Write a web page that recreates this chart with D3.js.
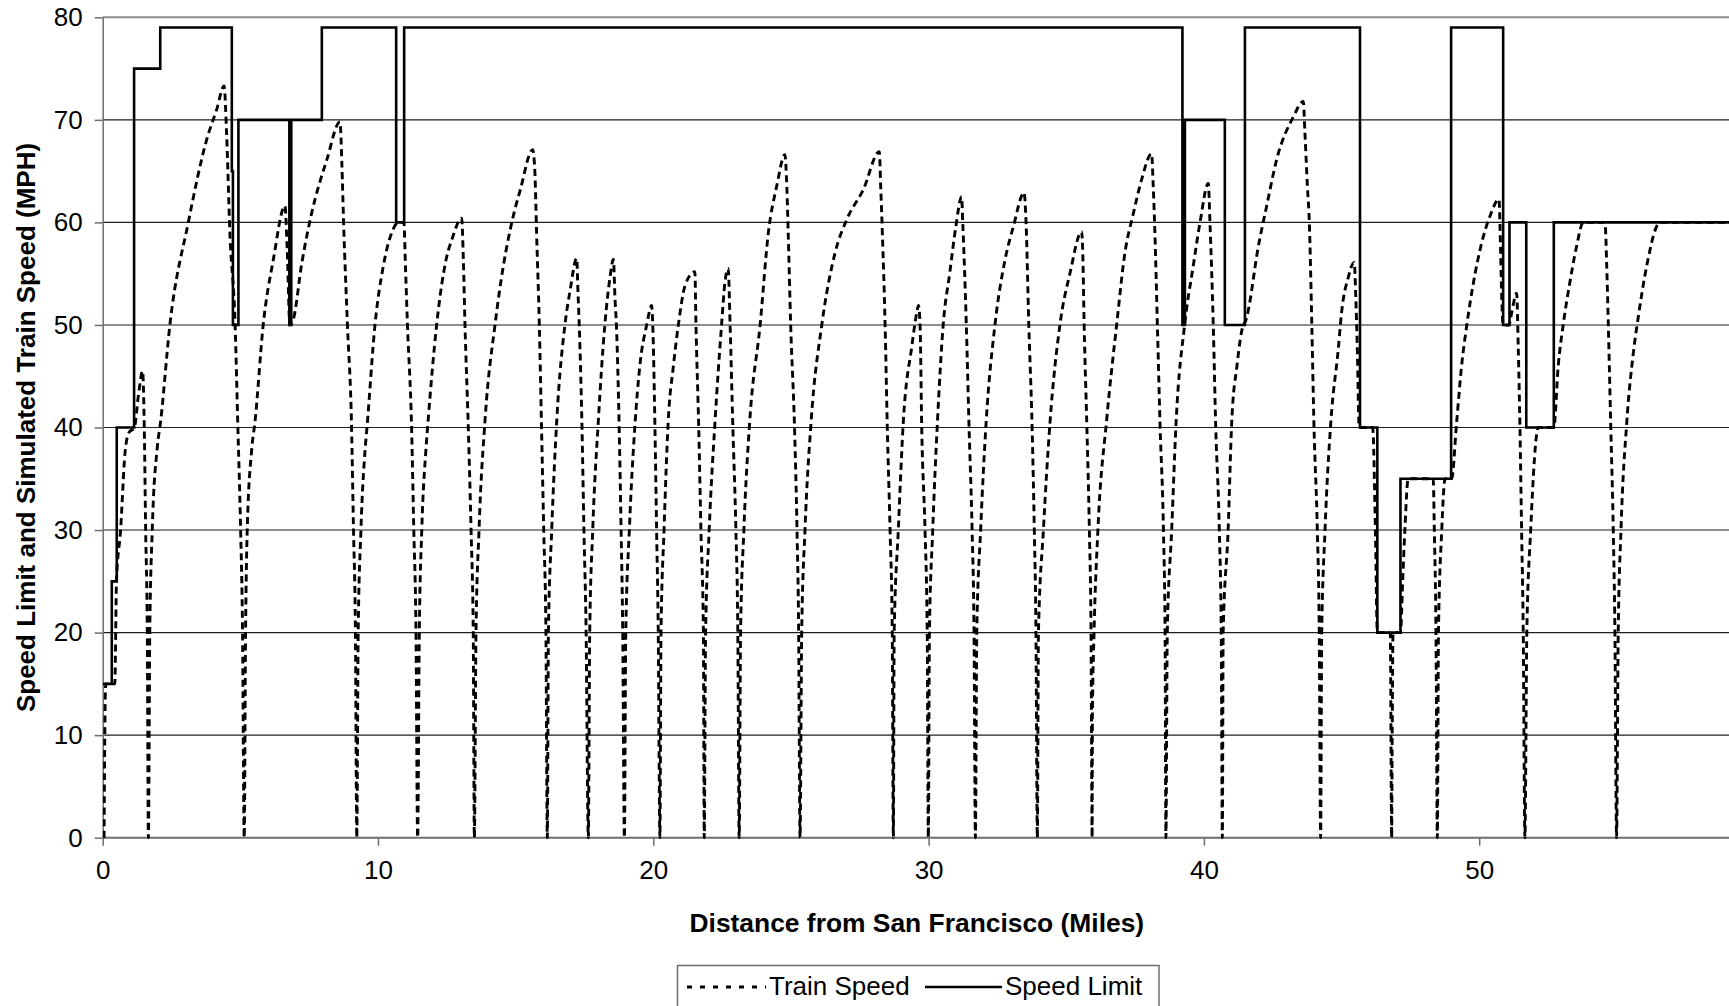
<!DOCTYPE html>
<html>
<head>
<meta charset="utf-8">
<script src="https://cdn.jsdelivr.net/npm/d3@7/dist/d3.min.js"></script>
<style>
  body { margin: 0; background: #fff; }
  svg { display: block; font-family: "Liberation Sans", Arial, sans-serif; }
</style>
</head>
<body>
<svg id="chart" width="1729" height="1006"></svg>
<script>
//Values (miles, mph)
var yTicks = [0, 10, 20, 30, 40, 50, 60, 70, 80];
var xTicks = [0, 10, 20, 30, 40, 50];

//Speed limit: [start of section, limit]
var limitSteps = [
    [0, 15], [0.33, 25], [0.51, 40], [1.14, 75], [2.09, 79], [4.69, 65], [4.73, 50], [4.93, 70],
    [6.78, 50], [6.85, 70], [7.96, 79], [10.66, 60], [10.95, 79], [39.22, 50], [39.31, 70],
    [40.76, 50], [41.49, 79], [45.67, 40], [46.3, 20], [47.14, 35], [48.98, 79], [50.87, 50],
    [51.1, 60], [51.71, 40], [52.71, 60], [60, 60]
];

//Simulated train speed: [distance, speed], one line per run between stops
var trainSpeed = [
    [0.05, 0], [0.07, 8], [0.11, 15], [0.44, 15], [0.5, 25], [0.65, 30], [0.81, 37.5], [0.95, 39.5], [1.15, 40], [1.3, 43.2], [1.45, 45.5], [1.51, 40], [1.56, 30], [1.62, 20], [1.66, 0],
    [1.71, 20], [1.8, 30], [1.98, 38], [2.1, 40.5], [2.44, 50], [3.11, 60], [3.78, 68.1], [4.14, 71], [4.41, 73.3], [4.5, 68.7], [4.62, 59], [4.81, 50], [4.91, 40], [5.01, 30], [5.08, 20], [5.14, 0],
    [5.19, 20], [5.25, 30], [5.41, 37.8], [5.53, 40.5], [5.83, 50], [6.2, 56.4], [6.62, 61.6], [6.7, 57.5], [6.8, 50], [6.92, 50.5], [7.23, 56], [7.59, 60.9], [8.14, 66.1], [8.62, 69.8], [8.69, 65.5], [8.75, 60], [8.89, 50], [9.04, 40], [9.11, 30], [9.18, 20], [9.23, 0],
    [9.28, 20], [9.38, 30], [9.53, 37.8], [9.6, 40], [9.89, 50], [10.19, 55.7], [10.5, 59], [10.74, 60], [10.94, 60], [11.0, 55.5], [11.07, 50], [11.22, 40], [11.3, 30], [11.38, 20], [11.44, 0],
    [11.5, 20], [11.59, 30], [11.74, 37.8], [11.83, 41], [12.13, 50], [12.5, 56.7], [12.68, 58.3], [13.04, 60.4], [13.1, 56.4], [13.16, 50], [13.28, 40], [13.38, 30], [13.46, 20], [13.5, 0],
    [13.56, 20], [13.67, 30], [13.89, 40.8], [14.25, 50], [14.55, 55.7], [14.86, 60], [15.17, 63.2], [15.62, 67.1], [15.7, 64.8], [15.76, 59], [15.86, 50], [15.94, 40], [16.02, 30], [16.1, 20], [16.15, 0],
    [16.19, 20], [16.31, 30], [16.5, 41], [16.79, 50], [16.98, 53.4], [17.22, 56.5], [17.26, 53.5], [17.31, 50], [17.41, 40], [17.48, 30], [17.56, 20], [17.64, 0],
    [17.69, 20], [17.8, 30], [18.0, 40.5], [18.24, 50], [18.43, 54.7], [18.55, 56.4], [18.61, 52.5], [18.66, 50], [18.76, 40], [18.83, 30], [18.89, 20], [18.95, 0],
    [19.0, 20], [19.13, 30], [19.34, 40.5], [19.51, 46], [19.76, 50], [19.94, 51.9], [19.98, 50], [20.06, 40], [20.12, 30], [20.18, 20], [20.24, 0],
    [20.28, 20], [20.39, 30], [20.54, 40.5], [20.73, 46], [20.91, 50], [21.15, 53.8], [21.51, 55.2], [21.55, 50], [21.65, 40], [21.73, 30], [21.82, 20], [21.85, 0],
    [21.9, 20], [22.03, 30], [22.24, 40.5], [22.48, 50], [22.6, 54.1], [22.72, 55.5], [22.79, 50], [22.89, 40], [23.0, 30], [23.07, 20], [23.12, 0],
    [23.17, 20], [23.29, 30], [23.5, 40.5], [23.88, 50], [24.18, 59], [24.48, 63.5], [24.78, 66.6], [24.85, 63.5], [24.9, 59], [24.99, 50], [25.13, 40], [25.22, 30], [25.28, 20], [25.33, 0],
    [25.39, 20], [25.51, 30], [25.73, 40.5], [26.12, 50], [26.6, 57], [27.03, 60.3], [27.63, 63.2], [28.21, 66.9], [28.26, 63.5], [28.32, 59], [28.42, 50], [28.5, 40], [28.6, 30], [28.68, 20], [28.72, 0],
    [28.75, 20], [28.9, 30], [29.08, 40.5], [29.39, 47.9], [29.57, 51.2], [29.63, 51.9], [29.69, 50], [29.75, 40], [29.87, 30], [29.95, 20], [29.99, 0],
    [30.03, 20], [30.15, 30], [30.32, 40.5], [30.53, 50], [30.77, 55.1], [30.99, 59.6], [31.2, 62.5], [31.24, 60], [31.37, 50], [31.47, 40], [31.58, 30], [31.65, 20], [31.7, 0],
    [31.75, 20], [31.89, 30], [32.09, 40.5], [32.41, 50], [32.78, 56.4], [33.08, 59.6], [33.47, 62.9], [33.54, 60], [33.64, 50], [33.76, 40], [33.84, 30], [33.9, 20], [33.95, 0],
    [33.99, 20], [34.17, 30], [34.41, 40.5], [34.77, 50], [35.14, 55.1], [35.56, 59.1], [35.6, 57], [35.65, 50], [35.75, 40], [35.84, 30], [35.9, 20], [35.94, 0],
    [35.95, 12], [36.01, 20], [36.15, 30], [36.47, 40.8], [36.83, 50], [37.13, 57], [37.44, 60.9], [37.74, 64.2], [38.1, 66.7], [38.16, 63.5], [38.22, 59], [38.31, 50], [38.41, 40], [38.53, 30], [38.59, 20], [38.62, 0],
    [38.67, 20], [38.83, 30], [38.99, 40.5], [39.3, 50], [39.61, 55.7], [39.86, 60], [40.16, 63.8], [40.22, 60], [40.34, 50], [40.43, 40], [40.56, 30], [40.63, 20], [40.67, 0],
    [40.7, 20], [40.88, 30], [41.01, 40.5], [41.2, 46], [41.43, 50], [41.5, 50.3], [42.0, 58], [42.28, 61.6], [42.64, 66.1], [43.25, 70.3], [43.61, 71.8], [43.67, 68.7], [43.76, 63.5], [43.83, 60], [43.92, 50], [44.0, 40], [44.12, 30], [44.19, 20], [44.24, 0],
    [44.28, 20], [44.4, 30], [44.61, 40.5], [44.88, 47.6], [45.0, 51.2], [45.25, 54.7], [45.46, 56.1], [45.52, 52.5], [45.57, 48], [45.64, 40], [46.13, 40], [46.23, 30], [46.3, 20], [46.77, 20], [46.82, 0],
    [46.84, 10], [46.87, 20], [47.14, 20], [47.22, 25], [47.3, 30], [47.42, 35], [48.33, 35], [48.37, 30], [48.43, 20], [48.48, 0],
    [48.52, 20], [48.64, 30], [48.76, 35], [49.0, 35], [49.18, 40.5], [49.36, 46], [49.55, 50], [49.79, 54.1], [50.09, 58], [50.39, 60.6], [50.72, 62.25], [50.76, 59.2], [50.82, 52.5], [50.87, 50], [51.08, 50], [51.18, 51.2], [51.36, 53.1], [51.42, 47.6], [51.48, 40], [51.54, 30], [51.6, 20], [51.66, 0],
    [51.73, 20], [51.87, 30], [52.15, 40], [52.71, 40], [52.87, 46], [53.05, 50], [53.29, 54.1], [53.54, 57.7], [53.78, 60], [54.57, 60], [54.63, 56], [54.69, 50], [54.78, 40], [54.87, 30], [54.93, 20], [54.99, 0],
    [55.05, 20], [55.15, 30], [55.36, 40.5], [55.6, 47.3], [55.78, 50.8], [56.08, 55.7], [56.57, 60], [60, 60]
];

var svg = d3.select("#chart"),
    width = +svg.attr("width"),
    plotLeft = 102.7,
    plotTop = 17.3,
    plotBottom = 837.7;

//x runs past the right edge of the picture, the plot is cut there
var x = d3.scaleLinear().domain([0, 50]).range([plotLeft, 1479.2]);
var y = d3.scaleLinear().domain([0, 80]).range([plotBottom, plotTop]);

//Gridlines
svg.append("g")
    .selectAll("line")
    .data(yTicks.filter(function(d) { return d > 0 && d < 80; }))
    .enter().append("line")
    .attr("x1", plotLeft).attr("x2", width)
    .attr("y1", function(d) { return y(d); })
    .attr("y2", function(d) { return y(d); })
    .attr("stroke", "#1e1e1e")
    .attr("stroke-width", 1.1);

svg.append("line")
    .attr("x1", plotLeft).attr("x2", width)
    .attr("y1", y(80)).attr("y2", y(80))
    .attr("stroke", "#8c8c8c")
    .attr("stroke-width", 2);

//Axes
var yAxis = d3.axisLeft(y).tickValues(yTicks).tickSize(8).tickSizeOuter(0).tickPadding(12);
var gy = svg.append("g").attr("transform", "translate(" + plotLeft + ",0)").call(yAxis);
gy.select(".domain").attr("stroke", "#6e6e6e").attr("stroke-width", 1.5);
gy.selectAll(".tick line").attr("stroke", "#6e6e6e").attr("stroke-width", 1.5);
gy.selectAll("text").attr("font-size", 26).attr("fill", "#000")
    .attr("font-family", "'Liberation Sans', Arial, sans-serif");

var xAxis = d3.axisBottom(x).tickValues(xTicks).tickSize(8).tickSizeOuter(0).tickPadding(15);
var gx = svg.append("g").attr("transform", "translate(0," + plotBottom + ")").call(xAxis);
gx.select(".domain").attr("d", "M" + plotLeft + ",0H" + width).attr("stroke", "#6e6e6e").attr("stroke-width", 2);
gx.selectAll(".tick line").attr("stroke", "#6e6e6e").attr("stroke-width", 1.5);
gx.selectAll("text").attr("font-size", 26).attr("fill", "#000")
    .attr("font-family", "'Liberation Sans', Arial, sans-serif");

//Clip the series to the plot area
svg.append("clipPath").attr("id", "plotClip")
  .append("rect").attr("x", plotLeft).attr("y", 0).attr("width", width - plotLeft).attr("height", plotBottom + 2);

var plot = svg.append("g").attr("clip-path", "url(#plotClip)");

var trainLine = d3.line()
    .x(function(d) { return x(d[0]); })
    .y(function(d) { return y(d[1]); })
    .curve(d3.curveMonotoneX);

plot.append("path")
    .datum(trainSpeed)
    .attr("fill", "none")
    .attr("stroke", "#000")
    .attr("stroke-width", 2.9)
    .attr("stroke-dasharray", "7,4.5")
    .attr("d", trainLine);

var limitLine = d3.line()
    .x(function(d) { return x(d[0]); })
    .y(function(d) { return y(d[1]); })
    .curve(d3.curveStepAfter);

plot.append("path")
    .datum(limitSteps)
    .attr("fill", "none")
    .attr("stroke", "#000")
    .attr("stroke-width", 2.6)
    .attr("d", limitLine);

//Axis titles
svg.append("text")
    .attr("x", (plotLeft + 1731) / 2)
    .attr("y", 932)
    .attr("text-anchor", "middle")
    .attr("font-size", 26.4)
    .attr("font-weight", "bold")
    .text("Distance from San Francisco (Miles)");

svg.append("text")
    .attr("transform", "translate(35," + ((plotTop + plotBottom) / 2) + ") rotate(-90)")
    .attr("text-anchor", "middle")
    .attr("font-size", 26)
    .attr("font-weight", "bold")
    .text("Speed Limit and Simulated Train Speed (MPH)");

//Legend, cut off by the bottom edge like the original
var legend = svg.append("g");
legend.append("rect")
    .attr("x", 677.5).attr("y", 965.5)
    .attr("width", 481.5).attr("height", 60)
    .attr("fill", "#fff")
    .attr("stroke", "#6e6e6e")
    .attr("stroke-width", 1.5);

legend.append("line")
    .attr("x1", 687).attr("x2", 766).attr("y1", 987).attr("y2", 987)
    .attr("stroke", "#000").attr("stroke-width", 3).attr("stroke-dasharray", "5,8");
legend.append("text")
    .attr("x", 769).attr("y", 995)
    .attr("font-size", 26)
    .text("Train Speed");

legend.append("line")
    .attr("x1", 925).attr("x2", 1002).attr("y1", 987).attr("y2", 987)
    .attr("stroke", "#000").attr("stroke-width", 2.3);
legend.append("text")
    .attr("x", 1005).attr("y", 995)
    .attr("font-size", 26)
    .text("Speed Limit");
</script>
</body>
</html>
